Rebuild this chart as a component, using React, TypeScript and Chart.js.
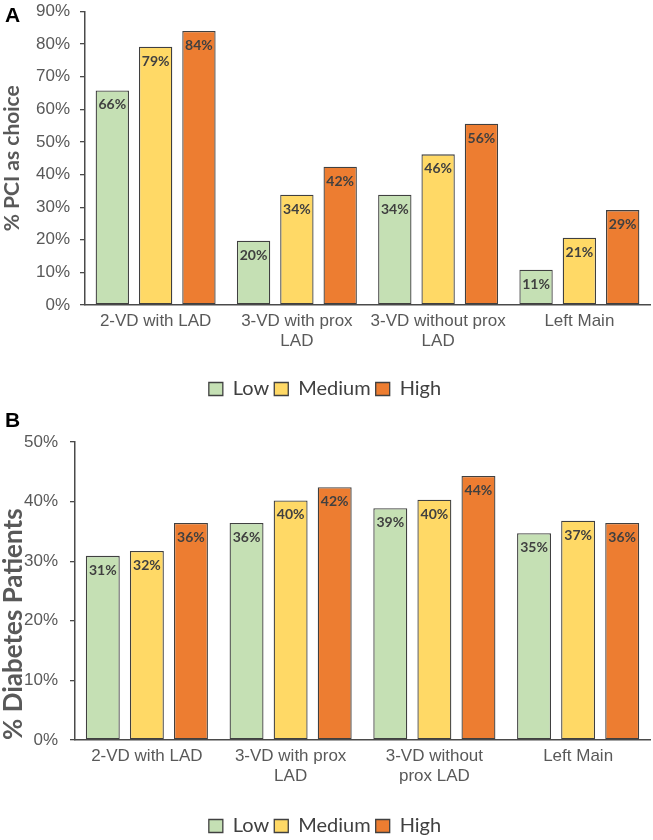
import React, { useEffect, useRef } from "react";
import { Chart, registerables } from "chart.js";

Chart.register(...registerables);

// ---------- data ----------
const seriesNames = ["Low", "Medium", "High"];
const seriesColors = ["#C5E0B4", "#FFD966", "#ED7D31"];

const categoriesA = [["2-VD with LAD"], ["3-VD with prox", "LAD"], ["3-VD without prox", "LAD"], ["Left Main"]];
const lowA = [65.8, 19.7, 33.8, 10.8];
const mediumA = [79.2, 33.8, 46.2, 20.6];
const highA = [84.0, 42.4, 55.6, 29.1];
const yMaxA = 90;
const yTitleA = "% PCI as choice";

const categoriesB = [["2-VD with LAD"], ["3-VD with prox", "LAD"], ["3-VD without", "prox LAD"], ["Left Main"]];
const lowB = [30.9, 36.4, 38.9, 34.7];
const mediumB = [31.7, 40.2, 40.3, 36.8];
const highB = [36.4, 42.4, 44.3, 36.4];
const yMaxB = 50;
const yTitleB = "% Diabetes Patients";

const AXIS_COLOR = "#4a4a4a";
const TEXT_GRAY = "#595959";

const valueLabels = {
  id: "valueLabels",
  afterDatasetsDraw(chart: any) {
    const ctx = chart.ctx;
    ctx.save();
    ctx.font = "bold 14px Lato";
    ctx.fillStyle = "#404040";
    ctx.textAlign = "center";
    ctx.textBaseline = "middle";
    chart.data.datasets.forEach((ds: any, i: number) => {
      const meta = chart.getDatasetMeta(i);
      meta.data.forEach((el: any, j: number) => {
        const v = ds.data[j];
        ctx.fillText(Math.round(v) + "%", el.x, el.y + 14.5);
      });
    });
    ctx.restore();
  },
};

type Props = {
  top: number;
  height: number;
  categories: string[][];
  low: number[];
  medium: number[];
  high: number[];
  yMax: number;
  yTitle: string;
  titleSize: number;
  titleLineHeight: number;
  titleAlign: string;
  padTop: number;
  padBottom: number;
  yWidth: number;
  xHeight: number;
  tickPad: number;
};

function BarPanel(p: Props) {
  const ref = useRef<HTMLCanvasElement | null>(null);
  useEffect(() => {
    if (!ref.current) return;
    const values = [p.low, p.medium, p.high];
    const chart = new Chart(ref.current, {
      type: "bar",
      data: {
        labels: p.categories,
        datasets: seriesNames.map((name, i) => ({
          label: name,
          data: values[i],
          backgroundColor: seriesColors[i],
          borderColor: "#404040",
          borderWidth: 1.3,
          borderSkipped: false,
          barPercentage: 0.77,
          categoryPercentage: 0.92,
        })),
      },
      options: {
        responsive: false,
        animation: false,
        layout: { padding: { top: p.padTop, bottom: p.padBottom, left: 0, right: 3 } },
        plugins: {
          tooltip: { enabled: false },
          legend: {
            position: "bottom",
            labels: {
              boxWidth: 14,
              boxHeight: 13,
              padding: 5,
              color: "#404040",
              font: { family: "Lato", size: 20 },
            },
          },
        },
        scales: {
          x: {
            grid: { display: false, drawTicks: false },
            border: { display: true, color: AXIS_COLOR, width: 1.5 },
            ticks: {
              color: TEXT_GRAY,
              font: { family: "Liberation Sans", size: 17, lineHeight: 1.2 },
              padding: 6,
              maxRotation: 0,
              minRotation: 0,
              autoSkip: false,
            },
            afterFit: (s: any) => {
              s.height = p.xHeight;
            },
          },
          y: {
            min: 0,
            max: p.yMax,
            grid: { drawOnChartArea: false, drawTicks: true, tickLength: 5, color: AXIS_COLOR, lineWidth: 1.3 },
            border: { display: true, color: AXIS_COLOR, width: 1.5 },
            ticks: {
              stepSize: 10,
              color: TEXT_GRAY,
              font: { family: "Liberation Sans", size: 17 },
              padding: p.tickPad,
              callback: (v: any) => v + "%",
            },
            title: {
              display: true,
              text: p.yTitle,
              align: p.titleAlign,
              color: TEXT_GRAY,
              font: { family: "Lato", size: p.titleSize, weight: "bold", lineHeight: p.titleLineHeight },
              padding: { top: 0, bottom: 0 },
            },
            afterFit: (s: any) => {
              s.width = p.yWidth;
              s.paddingTop = 0;
              s.paddingBottom = 0;
            },
          },
        },
      },
      plugins: [valueLabels],
    } as any);
    return () => chart.destroy();
  }, []);
  return (
    <canvas
      ref={ref}
      width={653}
      height={p.height}
      style={{ position: "absolute", left: 0, top: p.top, width: 653, height: p.height }}
    />
  );
}

const panelLetter: React.CSSProperties = {
  position: "absolute",
  left: 5,
  fontFamily: "Liberation Sans",
  fontWeight: "bold",
  fontSize: 21,
  lineHeight: "21px",
  color: "#000",
};

export default function App() {
  return (
    <div style={{ position: "absolute", left: 0, top: 0, width: 653, height: 840, background: "#fff", overflow: "hidden" }}>
      <BarPanel
        top={0}
        height={409}
        categories={categoriesA}
        low={lowA}
        medium={mediumA}
        high={highA}
        yMax={yMaxA}
        yTitle={yTitleA}
        titleSize={21}
        titleLineHeight={1.15}
        titleAlign="center"
        padTop={11.5}
        padBottom={0}
        yWidth={85}
        xHeight={69}
        tickPad={10}
      />
      <BarPanel
        top={405}
        height={441}
        categories={categoriesB}
        low={lowB}
        medium={mediumB}
        high={highB}
        yMax={yMaxB}
        yTitle={yTitleB}
        titleSize={26}
        titleLineHeight={1.05}
        titleAlign="start"
        padTop={37}
        padBottom={0}
        yWidth={75}
        xHeight={71}
        tickPad={12}
      />
      <div style={{ ...panelLetter, top: 4 }}>A</div>
      <div style={{ ...panelLetter, top: 409 }}>B</div>
    </div>
  );
}
